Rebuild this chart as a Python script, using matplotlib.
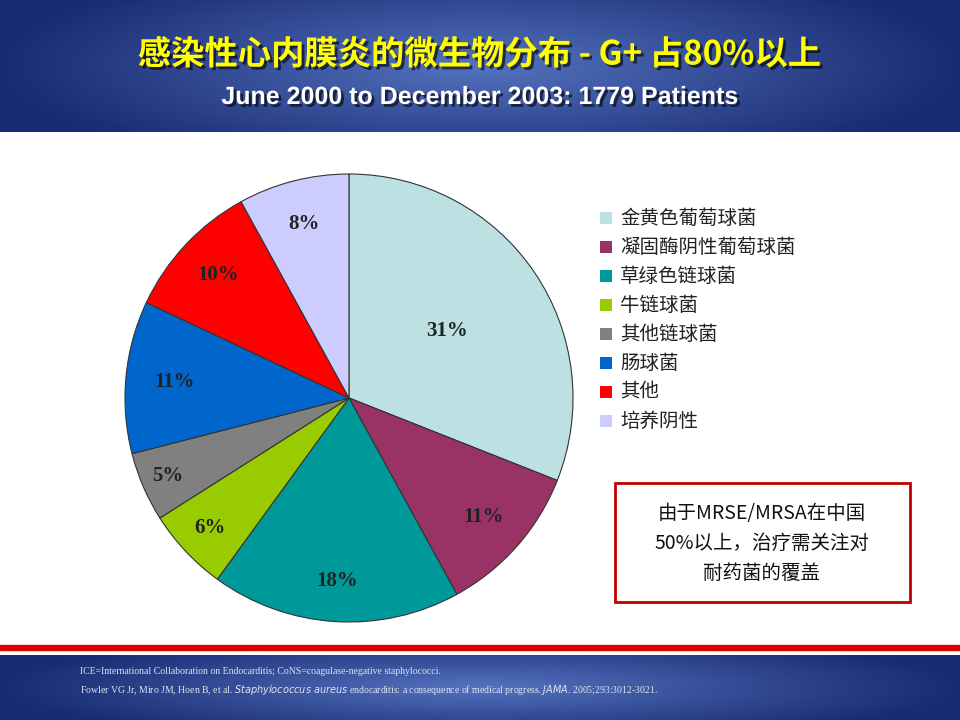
import numpy as np
import matplotlib
matplotlib.use("Agg")
import matplotlib.pyplot as plt
import matplotlib.patheffects as pe
from matplotlib.patches import Rectangle

categories = ["金黄色葡萄球菌", "凝固酶阴性葡萄球菌", "草绿色链球菌", "牛链球菌",
              "其他链球菌", "肠球菌", "其他", "培养阴性"]
values = [31, 11, 18, 6, 5, 11, 10, 8]
colors = ["#bde0e3", "#993366", "#009999", "#99cc00", "#808080", "#0066cc", "#ff0000", "#ccccff"]
label_r = [0.53, 0.8, 0.82, 0.85, 0.88, 0.78, 0.8, 0.8]

plt.rcParams['font.family'] = ['Noto Sans CJK SC', 'DejaVu Sans']
fig = plt.figure(figsize=(9.6, 7.2), dpi=100)

def gradient_band(y0, h):
    ax = fig.add_axes([0, y0, 1, h])
    x = np.linspace(-1, 1, 200)
    y = np.linspace(-1, 1, 60)
    X, Y = np.meshgrid(x, y)
    d = np.clip(np.sqrt(X**2 + (Y * 0.6) ** 2), 0, 1)
    c0 = np.array([0.33, 0.45, 0.75]); c1 = np.array([0.10, 0.17, 0.45])
    img = c0[None, None, :] * (1 - d[..., None]) + c1[None, None, :] * d[..., None]
    ax.imshow(img, aspect='auto', extent=[0, 1, 0, 1])
    ax.axis('off')
    return ax

gradient_band(1 - 132 / 720, 132 / 720)
gradient_band(0, 65 / 720)
fig.add_artist(Rectangle((0, 1 - 650 / 720), 1, 5 / 720, transform=fig.transFigure, color="#dd0000"))

sh = [pe.withSimplePatchShadow(offset=(2, -2), shadow_rgbFace='black', alpha=0.6)]
fig.text(0.5, 1 - 55 / 720, "感染性心内膜炎的微生物分布 - G+ 占80%以上", ha='center', va='center',
         fontsize=24, fontweight='bold', color='#ffff00', path_effects=sh)
fig.text(0.5, 1 - 97 / 720, "June 2000 to December 2003: 1779 Patients", ha='center', va='center',
         fontsize=18, fontweight='bold', color='white', family='Liberation Sans', path_effects=sh)

fig.text(80 / 960, 1 - 672 / 720, "ICE=International Collaboration on Endocarditis; CoNS=coagulase-negative staphylococci.",
         fontsize=7, color='#dde3f0', family='Liberation Serif', va='center')
t2 = ("Fowler VG Jr, Miro JM, Hoen B, et al. $\\it{Staphylococcus\\ aureus}$ endocarditis: a consequence of medical progress. "
      "$\\it{JAMA}$. 2005;293:3012-3021.")
fig.text(80 / 960, 1 - 690 / 720, t2, fontsize=7, color='#dde3f0', family='Liberation Serif', va='center')

cx, cy, r = 349 / 960, 1 - 398 / 720, 224
ax = fig.add_axes([cx - r / 960, cy - r / 720, 2 * r / 960, 2 * r / 720])
wedges, _ = ax.pie(values, colors=colors, startangle=90, counterclock=False,
                   wedgeprops=dict(edgecolor='#333333', linewidth=0.8))
for w, v, lr in zip(wedges, values, label_r):
    ang = np.deg2rad((w.theta1 + w.theta2) / 2)
    ax.text(lr * np.cos(ang), lr * np.sin(ang), f"{v}%", ha='center', va='center',
            fontsize=15, fontweight='bold', family='Liberation Serif', color='#222222')
ax.set_xlim(-1, 1); ax.set_ylim(-1, 1)

for i, (c, col) in enumerate(zip(categories, colors)):
    yy = 1 - (218 + 29 * i) / 720
    fig.add_artist(Rectangle((600 / 960, yy - 6 / 720), 12 / 960, 12 / 720, transform=fig.transFigure,
                             facecolor=col, edgecolor='none'))
    fig.text(620 / 960, yy, c, fontsize=14, va='center', color='#222222',
             style='italic' if i == 2 else 'normal')

fig.add_artist(Rectangle((615 / 960, 1 - 602 / 720), 295 / 960, 119 / 720, transform=fig.transFigure,
                         facecolor='white', edgecolor='#c00000', linewidth=2))
for j, line in enumerate(["由于MRSE/MRSA在中国", "50%以上，治疗需关注对", "耐药菌的覆盖"]):
    fig.text(762 / 960, 1 - (513 + 30 * j) / 720, line, ha='center', va='center', fontsize=14,
             family=['Noto Sans CJK SC', 'Liberation Sans'], color='#111111')

fig.savefig("out.png", dpi=100)
